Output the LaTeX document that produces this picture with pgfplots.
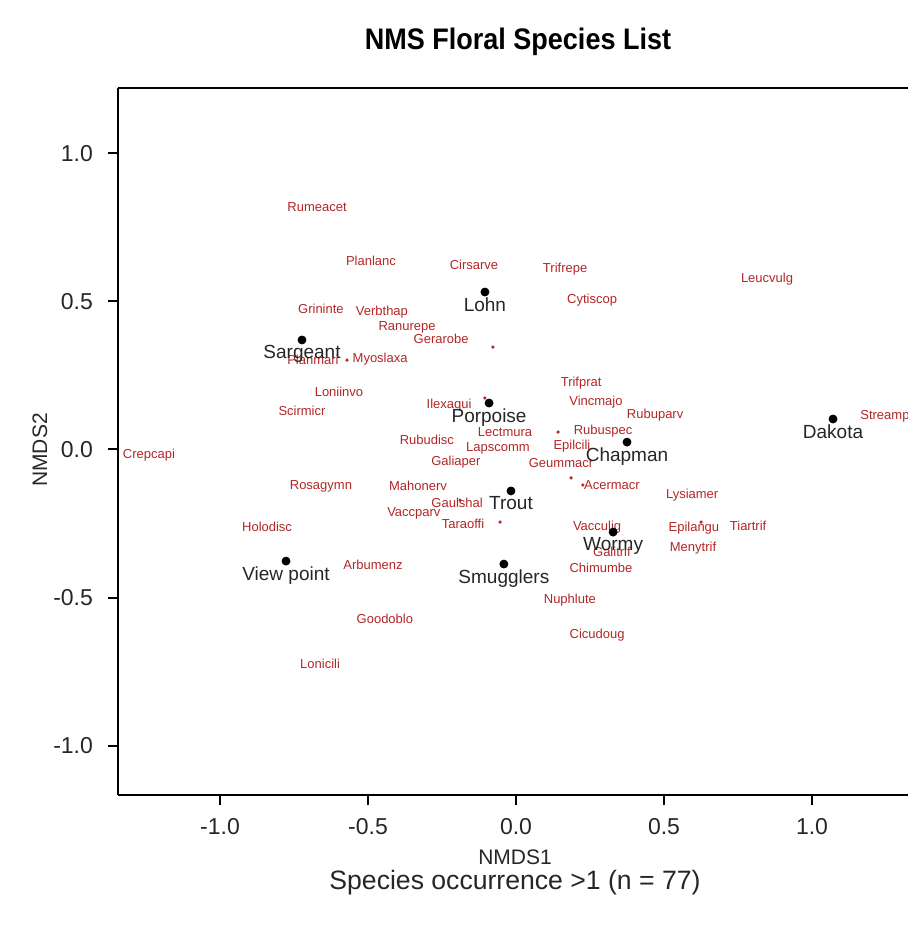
\documentclass[border=0pt]{standalone}
\usepackage{fontspec}
\setmainfont{Liberation Sans}
\usepackage{pgfplots}
\pgfplotsset{compat=1.18}
\definecolor{spred}{RGB}{178,38,38}
\begin{document}
\begin{tikzpicture}[x=1pt,y=1pt]
\begin{axis}[
  at={(0,0)}, anchor=south west,
  scale only axis, width=395pt, height=353.5pt,
  xmin=-1.3446, xmax=1.3243, ymin=-1.1672, ymax=1.2213,
  axis x line=box, axis y line=left,
  axis line style={-, line width=1pt, black},
  xtick={-1,-0.5,0,0.5,1}, ytick={-1,-0.5,0,0.5,1},
  xticklabels={-1.0,-0.5,0.0,0.5,1.0},
  yticklabels={-1.0,-0.5,0.0,0.5,1.0},
  xtick pos=left, ytick pos=left,
  tick align=outside, major tick length=5pt,
  tick style={line width=1pt, black},
  ticklabel style={font=\fontsize{11.5}{13}\selectfont, text=black!85},
  xticklabel style={yshift=-3pt},
  yticklabel style={xshift=-4pt},
  clip=false,
]
% species labels
\addplot[only marks, mark=none, point meta=explicit symbolic, nodes near coords,
  every node near coord/.append style={anchor=center, inner sep=0pt, text=spred, font=\fontsize{6.5}{7}\selectfont}]
 table[col sep=comma, x=x, y=y, meta=lab] {
x,y,lab
-0.672,0.819,Rumeacet
-0.490,0.637,Planlanc
-0.142,0.623,Cirsarve
0.166,0.610,Trifrepe
0.848,0.576,Leucvulg
0.257,0.505,Cytiscop
-0.659,0.475,Grininte
-0.453,0.465,Verbthap
-0.368,0.414,Ranurepe
-0.253,0.373,Gerarobe
-0.686,0.302,Planmari
-0.459,0.306,Myoslaxa
0.220,0.225,Trifprat
-0.598,0.195,Loniinvo
-0.226,0.150,Ilexaqui
0.270,0.160,Vincmajo
-0.723,0.130,Scirmicr
0.470,0.117,Rubuparv
-0.037,0.059,Lectmura
0.294,0.063,Rubuspec
-0.301,0.032,Rubudisc
-0.061,0.005,Lapscomm
0.189,0.012,Epilcili
-1.240,-0.019,Crepcapi
-0.203,-0.042,Galiaper
0.152,-0.046,Geummacr
0.324,-0.120,Acermacr
-0.659,-0.123,Rosagymn
-0.331,-0.123,Mahonerv
0.595,-0.154,Lysiamer
-0.199,-0.181,Gaulshal
-0.345,-0.215,Vaccparv
-0.179,-0.252,Taraoffi
-0.841,-0.262,Holodisc
0.274,-0.262,Vacculig
0.601,-0.265,Epilangu
0.784,-0.258,Tiartrif
0.598,-0.333,Menytrif
0.324,-0.346,Galitrif
-0.483,-0.390,Arbumenz
0.287,-0.400,Chimumbe
0.182,-0.508,Nuphlute
-0.443,-0.573,Goodoblo
0.274,-0.627,Cicudoug
-0.662,-0.725,Lonicili
};
\addplot[only marks, mark=none, point meta=explicit symbolic, nodes near coords,
  every node near coord/.append style={anchor=west, inner sep=0pt, text=spred, font=\fontsize{6.5}{7}\selectfont}]
 table[col sep=comma, x=x, y=y, meta=lab] {
x,y,lab
1.162,0.113,Streamp
};
% unlabeled species points
\addplot[only marks, mark=*, mark size=0.6pt, color=spred] table {
-0.078 0.346
0.142 0.059
0.186 -0.096
-0.054 -0.245
0.226 -0.120
0.625 -0.245
-0.105 0.174
-0.571 0.302
-0.189 -0.171
};
% sites
\addplot[only marks, mark=*, mark size=2pt, color=black, point meta=explicit symbolic, nodes near coords,
  every node near coord/.append style={anchor=north, yshift=-2.5pt, inner sep=0pt, text=black!85, font=\fontsize{9.5}{11}\selectfont}]
 table[col sep=comma, x=x, y=y, meta=lab] {
x,y,lab
-0.723,0.370,Sargeant
-0.105,0.532,Lohn
-0.091,0.157,Porpoise
0.375,0.025,Chapman
1.071,0.103,Dakota
-0.017,-0.140,Trout
0.328,-0.279,Wormy
-0.777,-0.377,View point
-0.041,-0.387,Smugglers
};
\end{axis}
\node[font=\bfseries\fontsize{13.5}{15}\selectfont, yscale=1.1] at (200,376.5) {NMS Floral Species List};
\node[font=\fontsize{10.5}{12}\selectfont, text=black!85] at (198.5,-31) {NMDS1};
\node[font=\fontsize{13.3}{15}\selectfont, text=black!85] at (198.5,-44) {Species occurrence >1 (n = 77)};
\node[font=\fontsize{10.5}{12}\selectfont, text=black!85, rotate=90] at (-39,172.5) {NMDS2};
\pgfresetboundingbox
\path[use as bounding box] (-59,-70) rectangle (395,397.5);
\end{tikzpicture}
\end{document}
